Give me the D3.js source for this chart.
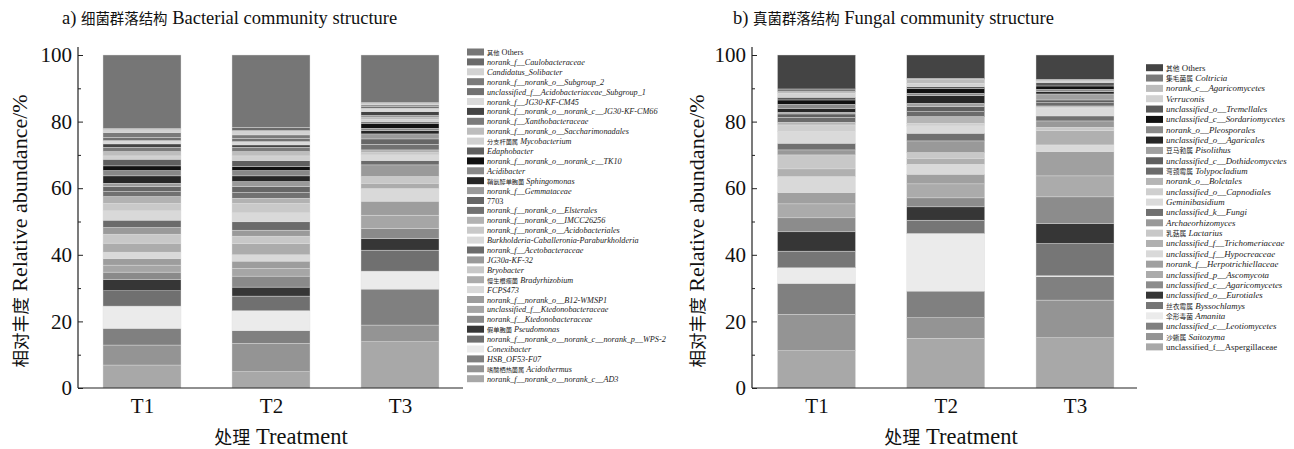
<!DOCTYPE html>
<html>
<head>
<meta charset="utf-8">
<script src="https://cdn.jsdelivr.net/npm/d3@7"></script>
<style>
  body { margin: 0; background: #fff; }
  svg { display: block; }
</style>
</head>
<body>
<svg id="chart" width="1294" height="449"></svg>
<script>
//-- data --//
var treatments = ["T1", "T2", "T3"];
var yTicks = [0, 20, 40, 60, 80, 100];
var yMinorTicks = [10, 30, 50, 70, 90];

// bacteria, legend order (top of the stack first)
var bacNames = [
  "其他 Others", "norank_f__Caulobacteraceae", "Candidatus_Solibacter",
  "norank_f__norank_o__Subgroup_2", "unclassified_f__Acidobacteriaceae_Subgroup_1",
  "norank_f__JG30-KF-CM45", "norank_f__norank_o__norank_c__JG30-KF-CM66",
  "norank_f__Xanthobacteraceae", "norank_f__norank_o__Saccharimonadales",
  "分支杆菌属 Mycobacterium", "Edaphobacter", "norank_f__norank_o__norank_c__TK10",
  "Acidibacter", "鞘氨醇单胞菌 Sphingomonas", "norank_f__Gemmataceae", "7703",
  "norank_f__norank_o__Elsterales", "norank_f__norank_o__IMCC26256",
  "norank_f__norank_o__Acidobacteriales", "Burkholderia-Caballeronia-Paraburkholderia",
  "norank_f__Acetobacteraceae", "JG30a-KF-32", "Bryobacter", "慢生根瘤菌 Bradyrhizobium",
  "FCPS473", "norank_f__norank_o__B12-WMSP1", "unclassified_f__Ktedonobacteraceae",
  "norank_f__Ktedonobacteraceae", "假单胞菌 Pseudomonas",
  "norank_f__norank_o__norank_c__norank_p__WPS-2", "Conexibacter", "HSB_OF53-F07",
  "嗜酸栖热菌属 Acidothermus", "norank_f__norank_o__norank_c__AD3"
];
var bacT1 = [22.0, 0.3, 1.0, 1.4, 1.0, 1.0, 1.0, 1.3, 1.3, 1.0, 2.0, 1.4, 1.6, 2.2, 1.0, 1.5, 1.5,
             2.0, 2.3, 2.8, 2.2, 2.0, 2.7, 2.7, 2.0, 1.9, 2.1, 2.2, 3.4, 4.6, 6.7, 5.0, 6.0, 6.9];
var bacT2 = [21.7, 1.0, 1.3, 1.0, 1.0, 1.0, 0.7, 1.3, 1.3, 1.4, 1.8, 1.2, 1.6, 1.7, 1.5, 1.8, 1.7,
             1.5, 2.9, 2.7, 2.5, 1.8, 2.2, 3.4, 1.9, 2.2, 2.3, 3.3, 2.7, 4.4, 6.0, 3.8, 8.5, 4.9];
var bacT3 = [14.2, 0.3, 0.5, 0.5, 0.5, 1.0, 1.1, 0.5, 0.7, 0.8, 0.4, 1.5, 0.7, 1.0, 1.5, 1.6, 1.7,
             0.8, 0.7, 1.7, 1.3, 3.5, 2.0, 1.6, 3.8, 4.2, 4.0, 3.0, 3.5, 6.3, 5.4, 10.8, 5.0, 13.9];
var bacColors = [
  "#767676", "#6a6a6a", "#d2d2d2", "#7a7a7a", "#717171", "#d9d9d9", "#444444", "#7b7b7b",
  "#bdbdbd", "#d0d0d0", "#5f5f5f", "#111111", "#888888", "#262626", "#9a9a9a", "#666666",
  "#717171", "#b2b2b2", "#c9c9c9", "#d9d9d9", "#6b6b6b", "#9a9a9a", "#c8c8c8", "#acacac",
  "#d9d9d9", "#9d9d9d", "#a6a6a6", "#8a8a8a", "#363636", "#707070", "#ebebeb", "#808080",
  "#949494", "#a8a8a8"
];

// fungi, legend order (top of the stack first)
var funNames = [
  "其他 Others", "集毛菌属 Coltricia", "norank_c__Agaricomycetes", "Verruconis",
  "unclassified_o__Tremellales", "unclassified_c__Sordariomycetes", "norank_o__Pleosporales",
  "unclassified_o__Agaricales", "豆马勃属 Pisolithus", "unclassified_c__Dothideomycetes",
  "弯颈霉属 Tolypocladium", "norank_o__Boletales", "unclassified_o__Capnodiales",
  "Geminibasidium", "unclassified_k__Fungi", "Archaeorhizomyces", "乳菇属 Lactarius",
  "unclassified_f__Trichomeriaceae", "unclassified_f__Hypocreaceae",
  "norank_f__Herpotrichiellaceae", "unclassified_p__Ascomycota",
  "unclassified_c__Agaricomycetes", "unclassified_o__Eurotiales", "丝衣霉属 Byssochlamys",
  "伞形毒菌 Amanita", "unclassified_c__Leotiomycetes", "沙蜥属 Saitozyma",
  "unclassified_f__Aspergillaceae"
];
var funT1 = [10.2, 0.8, 0.5, 1.2, 0.8, 1.3, 1.2, 1.2, 0.5, 1.0, 1.5, 0.8, 2.0, 3.5, 2.0, 1.5,
             4.2, 2.3, 4.8, 3.4, 4.2, 4.2, 5.8, 5.0, 4.7, 9.3, 10.9, 11.2];
var funT2 = [7.0, 0.3, 1.2, 1.0, 0.5, 1.5, 0.7, 2.3, 1.0, 1.5, 1.5, 2.0, 0.8, 2.2, 2.3, 3.5,
             1.7, 1.8, 3.0, 2.9, 4.2, 2.7, 4.0, 4.0, 17.3, 8.0, 6.2, 14.9];
var funT3 = [7.3, 0.3, 0.2, 0.5, 1.0, 1.0, 0.7, 0.7, 1.8, 0.8, 1.0, 0.4, 0.3, 2.3, 1.5, 1.9,
             1.0, 4.3, 2.0, 7.3, 6.3, 8.0, 6.0, 9.7, 0.3, 7.0, 11.3, 15.1];
var funColors = [
  "#444444", "#7a7a7a", "#bcbcbc", "#d2d2d2", "#595959", "#111111", "#8a8a8a", "#262626",
  "#a0a0a0", "#5f5f5f", "#6b6b6b", "#b5b5b5", "#cfcfcf", "#dadada", "#707070", "#999999",
  "#c8c8c8", "#b0b0b0", "#d9d9d9", "#a0a0a0", "#ababab", "#8c8c8c", "#363636", "#767676",
  "#ebebeb", "#808080", "#949494", "#a8a8a8"
];
var uprightNames = ["其他 Others", "7703", "unclassified_f__Aspergillaceae"];
//-- data --//

var svg = d3.select("#chart");
var serif = "'Liberation Serif','Times New Roman','Noto Sans CJK SC',serif";
var cjkRe = /([\u4e00-\u9fff]+)/;

//-- text with smaller CJK runs (song-style chars are narrow in the original) --//
function mixedText(sel, str, size, italic, cjkScale) {
  sel.style("font-family", serif).style("font-size", size + "px");
  str.split(cjkRe).filter(s => s.length).forEach(function(part) {
    var t = sel.append("tspan").text(part);
    if (cjkRe.test(part)) {
      t.style("font-size", (size * cjkScale) + "px");
    } else if (italic) {
      t.style("font-style", "italic");
    }
  });
  return sel;
}

//-- one panel --//
function drawPanel(p) {
  var g = svg.append("g");

  var y = d3.scaleLinear().domain([0, 100]).range([388, 55]);
  var x = d3.scalePoint().domain(treatments).range(p.centers);
  var barW = 78;

  // table for the stack, bottom series first
  var keys = p.names.slice().reverse();
  var table = treatments.map(function(t, i) {
    var row = { t: t };
    p.names.forEach(function(n, j) { row[n] = p.values[i][j]; });
    return row;
  });
  var color = d3.scaleOrdinal().domain(p.names).range(p.colors);
  var series = d3.stack().keys(keys)(table);

  g.selectAll("g.layer")
    .data(series)
    .enter().append("g")
      .attr("class", "layer")
      .attr("fill", d => color(d.key))
    .selectAll("rect")
    .data(d => d)
    .enter().append("rect")
      .attr("x", d => x(d.data.t) - barW / 2)
      .attr("width", barW)
      .attr("y", d => y(d[1]))
      .attr("height", d => y(d[0]) - y(d[1]))
      .attr("stroke", "#dedede")
      .attr("stroke-width", 0.4);

  //--axes--//
  var yAxis = g.append("g")
    .attr("transform", `translate(${p.x0},0)`)
    .call(d3.axisLeft(y).tickValues(yTicks).tickSizeInner(-5).tickSizeOuter(0).tickPadding(6));
  yAxis.select(".domain").remove();
  yAxis.selectAll("line").attr("stroke", "#222");
  yAxis.selectAll("text")
    .style("font-family", serif).style("font-size", "21px").attr("fill", "#111");

  var yMinor = g.append("g")
    .attr("transform", `translate(${p.x0},0)`)
    .call(d3.axisLeft(y).tickValues(yMinorTicks).tickSizeInner(-3).tickSizeOuter(0).tickFormat(""));
  yMinor.select(".domain").remove();
  yMinor.selectAll("line").attr("stroke", "#222");

  g.append("line")
    .attr("x1", p.x0).attr("x2", p.x0)
    .attr("y1", y(0)).attr("y2", y(102.4))
    .attr("stroke", "#222").attr("stroke-width", 1.2);

  var xAxis = g.append("g")
    .attr("transform", `translate(0,${y(0)})`)
    .call(d3.axisBottom(x).tickSize(0).tickPadding(10));
  xAxis.select(".domain").remove();
  xAxis.selectAll("text")
    .style("font-family", serif).style("font-size", "21px").attr("fill", "#111");

  g.append("line")
    .attr("x1", p.x0).attr("x2", p.x0 + 385)
    .attr("y1", y(0)).attr("y2", y(0))
    .attr("stroke", "#222").attr("stroke-width", 1.2);

  //--titles--//
  mixedText(g.append("text")
    .attr("x", p.titleX).attr("y", 24).attr("fill", "#111"), p.title, 18.5, false, 0.78);

  mixedText(g.append("text")
    .attr("x", p.xTitleX).attr("y", 444).attr("text-anchor", "middle").attr("fill", "#111"),
    "处理 Treatment", 22.5, false, 0.8);

  mixedText(g.append("text")
    .attr("transform", `translate(${p.yTitleX},231) rotate(-90)`)
    .attr("text-anchor", "middle").attr("fill", "#111"),
    "相对丰度 Relative abundance/%", 22, false, 0.8);

  //--legend--//
  var lg = g.append("g").selectAll("g")
    .data(p.names)
    .enter().append("g")
      .attr("transform", (d, i) => `translate(${p.legX},${p.legY + i * p.legStep})`);

  lg.append("rect")
    .attr("x", 0).attr("y", -3.5)
    .attr("width", 17).attr("height", 7)
    .attr("fill", d => color(d));

  lg.each(function(d) {
    mixedText(d3.select(this).append("text")
      .attr("x", 20).attr("y", 3).attr("fill", "#222"),
      d, p.legFont, uprightNames.indexOf(d) < 0, 0.76);
  });
}

drawPanel({
  names: bacNames, values: [bacT1, bacT2, bacT3], colors: bacColors,
  centers: [142, 400], x0: 78,
  title: "a) 细菌群落结构 Bacterial community structure", titleX: 62,
  xTitleX: 281, yTitleX: 27,
  legX: 467, legY: 52, legStep: 9.9, legFont: 8.2
});

drawPanel({
  names: funNames, values: [funT1, funT2, funT3], colors: funColors,
  centers: [816.5, 1075], x0: 752,
  title: "b) 真菌群落结构 Fungal community structure", titleX: 733,
  xTitleX: 951, yTitleX: 704,
  legX: 1146, legY: 67.7, legStep: 10.34, legFont: 8.9
});
</script>
</body>
</html>
